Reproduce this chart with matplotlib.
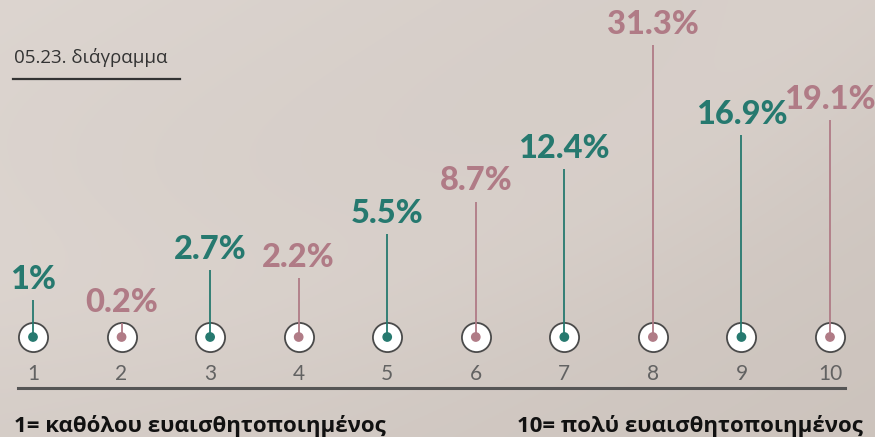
import numpy as np
import matplotlib
matplotlib.use("Agg")
import matplotlib.pyplot as plt
from matplotlib.transforms import blended_transform_factory

# ---- data ----
categories = [1, 2, 3, 4, 5, 6, 7, 8, 9, 10]
values = [1.0, 0.2, 2.7, 2.2, 5.5, 8.7, 12.4, 31.3, 16.9, 19.1]
labels = ["1%", "0.2%", "2.7%", "2.2%", "5.5%", "8.7%", "12.4%", "31.3%", "16.9%", "19.1%"]
title = "05.23. διάγραμμα"
left_note = "1= καθόλου ευαισθητοποιημένος"
right_note = "10= πολύ ευαισθητοποιημένος"

TEAL = "#26796f"
MAUVE = "#b07b86"
colors = [TEAL if i % 2 == 0 else MAUVE for i in range(len(values))]

W, H = 875, 437
fig = plt.figure(figsize=(W / 100, H / 100), dpi=100)

# background gradient
bg = fig.add_axes([0, 0, 1, 1], zorder=-10)
yy, xx = np.mgrid[0:1:200j, 0:1:400j]
base = np.array([0.865, 0.835, 0.815])
dark = np.array([0.80, 0.765, 0.74])
t = np.clip(0.55 * xx + 0.45 * yy, 0, 1)[..., None]
img = base * (1 - t) + dark * t
arc = np.exp(-((np.sqrt((xx - 0.2) ** 2 * 1.0 + (yy + 0.9) ** 2 * 0.35) - 0.93) ** 2) / 0.02)
img = img + 0.015 * arc[..., None]
bg.imshow(img, extent=[0, 1, 0, 1], aspect="auto", origin="upper")
bg.axis("off")

ax = fig.add_axes([0, 0, 1, 1])
ax.patch.set_alpha(0)
ax.axis("off")

p = 0.6
k = 37.0  # pixels per transformed unit
fwd = lambda v: np.sign(v) * np.abs(v) ** p
inv = lambda u: np.sign(u) * np.abs(u) ** (1 / p)
ax.set_yscale("function", functions=(fwd, inv))

center_px_from_bottom = 100
ax.set_ylim(inv(-center_px_from_bottom / k), inv((H - center_px_from_bottom) / k))
px_per_unit = 88.56
ax.set_xlim(1 - 33 / px_per_unit, 10 + (W - 830) / px_per_unit)

x = np.array(categories)
v = np.array(values)

ax.vlines(x, 0, v, colors=colors, linewidth=1.3, zorder=3)
ax.scatter(x, np.zeros_like(v), s=440, facecolor="white", edgecolor="#4a4a4a",
           linewidth=1.3, zorder=2)
ax.scatter(x, np.zeros_like(v), s=36, color=colors, zorder=4)

for xi, vi, lab, c in zip(x, v, labels, colors):
    ax.annotate(lab, (xi, vi), xytext=(0, 8), textcoords="offset points",
                ha="center", va="baseline", fontsize=23.5, fontweight="black",
                color=c, family="Lato", zorder=5)

trans = blended_transform_factory(ax.transData, fig.transFigure)
for xi in categories:
    ax.text(xi, 1 - 380 / H, str(xi), transform=trans, ha="center", va="baseline",
            fontsize=15, color="#626262", family="Lato")

# baseline
fig.add_artist(plt.Line2D([18 / W, 845 / W], [1 - 388 / H] * 2, color="#555555",
                          linewidth=2.2, transform=fig.transFigure))

# title and underline
fig.text(14 / W, 1 - 63 / H, title, fontsize=13.5, color="#333333",
         family=["Open Sans", "DejaVu Sans"], ha="left", va="baseline")
fig.add_artist(plt.Line2D([13 / W, 180 / W], [1 - 79 / H] * 2, color="#333333",
                          linewidth=1.6, transform=fig.transFigure))

fig.text(14 / W, 1 - 432 / H, left_note, fontsize=16, fontweight="bold",
         color="#111111", family=["Open Sans", "DejaVu Sans"], ha="left", va="baseline")
fig.text(863 / W, 1 - 432 / H, right_note, fontsize=16, fontweight="bold",
         color="#111111", family=["Open Sans", "DejaVu Sans"], ha="right", va="baseline")

fig.savefig("out.png", dpi=100)
